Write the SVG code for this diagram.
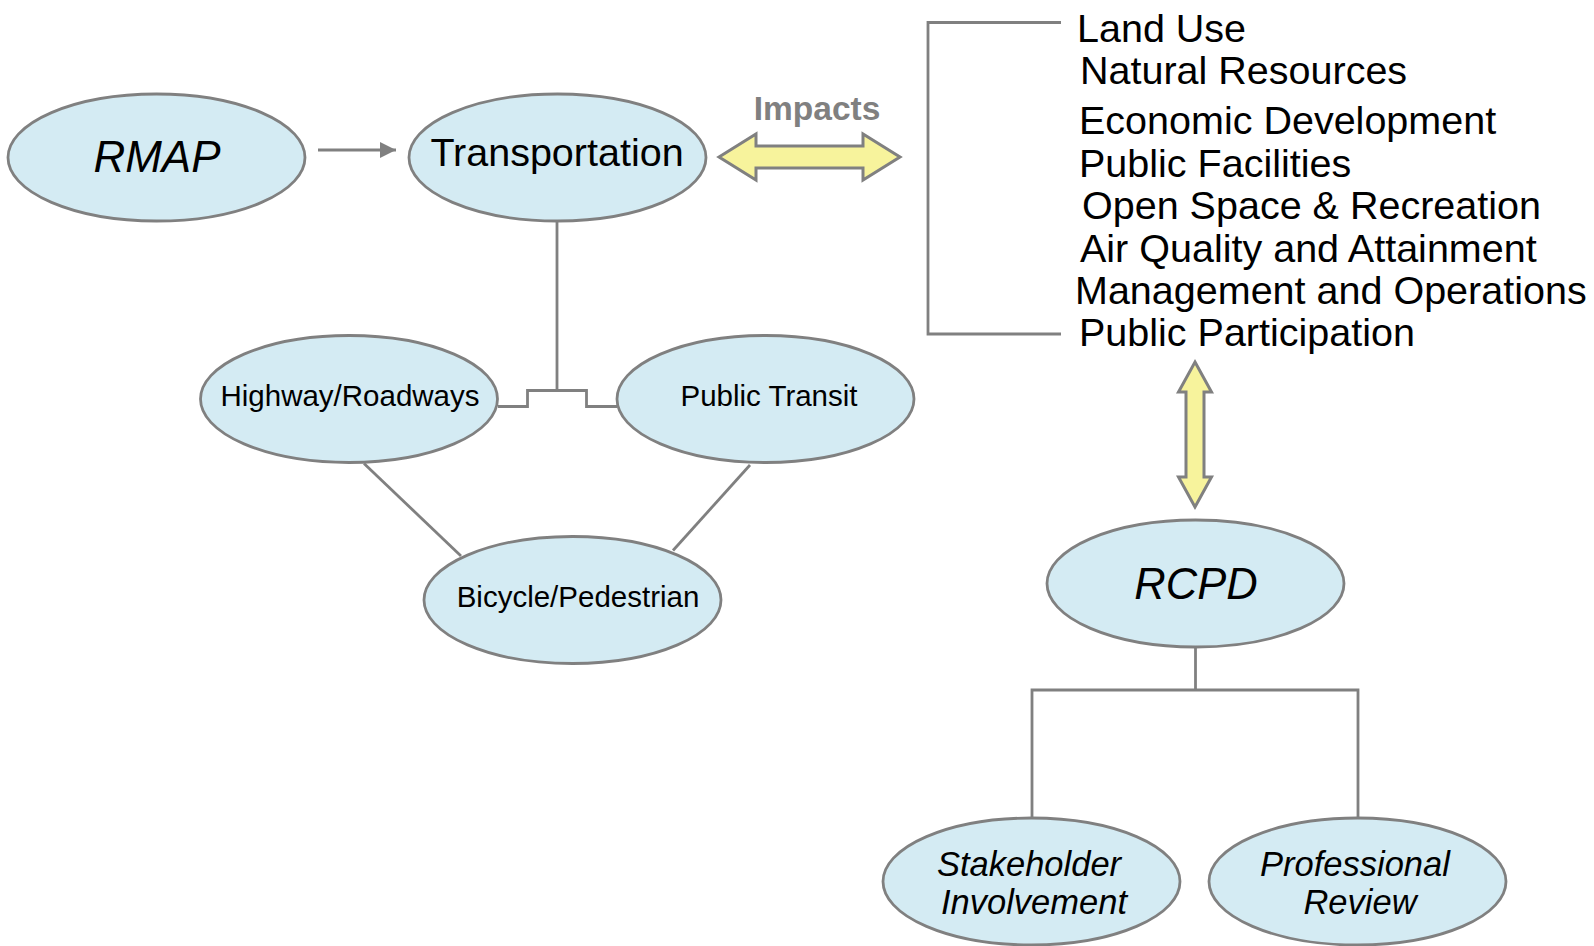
<svg xmlns="http://www.w3.org/2000/svg" width="1594" height="946" viewBox="0 0 1594 946">
<style>
.node ellipse{fill:#d4ebf3;stroke:#808080;stroke-width:2.8}
.t{font-family:"Liberation Sans",Arial,sans-serif;fill:#000;text-anchor:middle}
.it{font-style:italic}
.list{font-family:"Liberation Sans",Arial,sans-serif;font-size:39.5px;fill:#000}
.conn{fill:none;stroke:#808080;stroke-width:2.8}
.dbl{fill:#f7f39c;stroke:#808080;stroke-width:3;stroke-linejoin:miter}
</style>
<defs>
<marker id="ah" markerUnits="userSpaceOnUse" markerWidth="17" markerHeight="16" refX="16" refY="8" orient="auto">
<path d="M0,0 L16,8 L0,16 Z" fill="#808080"/>
</marker>
</defs>
<rect width="1594" height="946" fill="#fff"/>
<g id="connectors">
<line class="conn" x1="318" y1="150" x2="396" y2="150" stroke-width="3" marker-end="url(#ah)"/>
<line class="conn" x1="557" y1="221" x2="557" y2="390.5"/>
<polyline class="conn" points="498,406.5 527.5,406.5 527.5,390.5 586.5,390.5 586.5,406.5 617,406.5"/>
<line class="conn" x1="364" y1="463.5" x2="461" y2="556"/>
<line class="conn" x1="750" y1="465" x2="673" y2="550.5"/>
<polyline class="conn" points="1061,22.5 928,22.5 928,334 1061,334"/>
<line class="conn" x1="1195.5" y1="647" x2="1195.5" y2="690"/>
<polyline class="conn" points="1032,817 1032,690 1358,690 1358,817"/>
<polygon class="dbl" points="719,157 756,134 756,146 863,146 863,134 900,157 863,180 863,168 756,168 756,180"/>
<polygon class="dbl" points="1195,362 1211.5,392 1204,392 1204,477 1211.5,477 1195,507 1178.5,477 1186,477 1186,392 1178.5,392"/>
<text x="817" y="120" font-family="'Liberation Sans',Arial,sans-serif" font-weight="bold" font-size="33.5" fill="#808080" text-anchor="middle">Impacts</text>
</g>
<g id="rmap" class="node"><ellipse cx="156.5" cy="157.5" rx="148.5" ry="63.5"/><text class="t it" x="157" y="172" font-size="44">RMAP</text></g>
<g id="transportation" class="node"><ellipse cx="557.5" cy="157.5" rx="148.5" ry="63.5"/><text class="t" x="557" y="166" font-size="39.5">Transportation</text></g>
<g id="highway" class="node"><ellipse cx="349" cy="399" rx="148.5" ry="63.5"/><text class="t" x="350" y="406" font-size="29.5">Highway/Roadways</text></g>
<g id="transit" class="node"><ellipse cx="765.5" cy="399" rx="148.5" ry="63.5"/><text class="t" x="769" y="406" font-size="29.5">Public Transit</text></g>
<g id="bicycle" class="node"><ellipse cx="572.5" cy="600" rx="148.5" ry="63.5"/><text class="t" x="578" y="607" font-size="29.5">Bicycle/Pedestrian</text></g>
<g id="rcpd" class="node"><ellipse cx="1195.5" cy="583.5" rx="148.5" ry="63.5"/><text class="t it" x="1196" y="599" font-size="43.5">RCPD</text></g>
<g id="stakeholder" class="node"><ellipse cx="1031.5" cy="881.5" rx="148.5" ry="63.5"/><text class="t it" font-size="34.5"><tspan x="1029" y="876">Stakeholder</tspan><tspan x="1034" y="914">Involvement</tspan></text></g>
<g id="professional" class="node"><ellipse cx="1357.5" cy="881.5" rx="148.5" ry="63.5"/><text class="t it" font-size="34.5"><tspan x="1355" y="876">Professional</tspan><tspan x="1360" y="914">Review</tspan></text></g>
<g id="impacts-list">
<text class="list" x="1077" y="42">Land Use</text>
<text class="list" x="1080" y="84">Natural Resources</text>
<text class="list" x="1079" y="134">Economic Development</text>
<text class="list" x="1079" y="176.5">Public Facilities</text>
<text class="list" x="1082" y="219">Open Space &amp; Recreation</text>
<text class="list" x="1080" y="262">Air Quality and Attainment</text>
<text class="list" x="1075" y="303.5">Management and Operations</text>
<text class="list" x="1079" y="346">Public Participation</text>
</g>
</svg>
